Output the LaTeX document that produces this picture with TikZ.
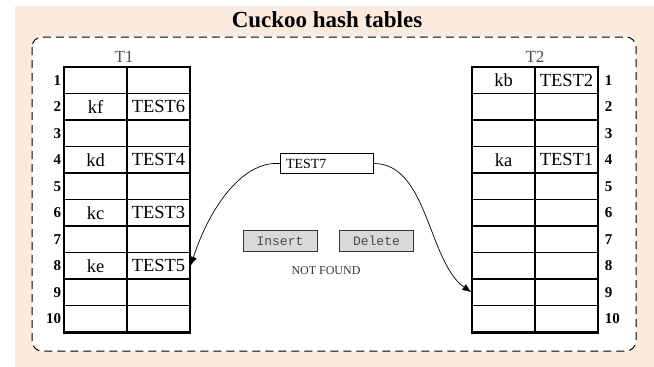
\documentclass[tikz,border=0pt]{standalone}
\usepackage{fontspec}
\setmainfont{Liberation Serif}
\setmonofont{Liberation Mono}
\usetikzlibrary{arrows.meta}
\definecolor{peach}{HTML}{FBEBDE}
\definecolor{btngray}{HTML}{D9D9D9}
\tikzset{
  cell/.style={draw,line width=1.3pt,minimum width=63pt,minimum height=26.5pt,inner sep=0pt,font=\fontsize{18.5}{18.5}\selectfont},
  rownum/.style={inner sep=2pt,font=\bfseries\fontsize{15}{15}\selectfont},
  tname/.style={text=black!70,font=\fontsize{17}{17}\selectfont},
  button/.style={draw=black!80,line width=0.9pt,fill=btngray,minimum width=74pt,minimum height=21pt,inner sep=0pt,font=\ttfamily\fontsize{13}{13}\selectfont,text=black!70},
  hook/.style={-{Latex[length=9pt,width=7pt]},line width=0.7pt},
}
\begin{document}
\begin{tikzpicture}[x=1pt,y=-1pt]
\useasboundingbox (0,0) rectangle (654,367);
\fill[peach] (15,6) rectangle (654,367);
\draw[line width=1pt,fill=white,rounded corners=10pt,dash pattern=on 8pt off 5pt] (32,37) rectangle (636,351);
\node[font=\bfseries\fontsize{23}{23}\selectfont] (title) at (327,20) {Cuckoo hash tables};

% table T1
\foreach \i/\k/\v in {1/{}/{},2/kf/TEST6,3/{}/{},4/kd/TEST4,5/{}/{},6/kc/TEST3,7/{}/{},8/ke/TEST5,9/{}/{},10/{}/{}}{
  \node[cell] (t1k\i) at (95.5,{67+26.5*(\i-0.5)}) {\k};
  \node[cell] (t1v\i) at (158.5,{67+26.5*(\i-0.5)}) {\v};
  \node[rownum,anchor=east] (t1n\i) at (t1k\i.west) {\i};
}
\draw[line width=2.5pt] (t1k10.south west) -- (t1v10.south east);
\node[tname] (t1) at (124,57) {T1};

% table T2
\foreach \i/\k/\v in {1/kb/TEST2,2/{}/{},3/{}/{},4/ka/TEST1,5/{}/{},6/{}/{},7/{}/{},8/{}/{},9/{}/{},10/{}/{}}{
  \node[cell] (t2k\i) at (503.5,{67+26.5*(\i-0.5)}) {\k};
  \node[cell] (t2v\i) at (566.5,{67+26.5*(\i-0.5)}) {\v};
  \node[rownum,anchor=west] (t2n\i) at ([xshift=4pt]t2v\i.east) {\i};
}
\draw[line width=2.5pt] (t2k10.south west) -- (t2v10.south east);
\node[tname] (t2) at (535,57) {T2};

% key being inserted
\node[draw,line width=0.9pt,minimum width=93pt,minimum height=20pt,text width=81pt,align=left,inner xsep=6pt,inner ysep=2pt,font=\fontsize{14}{14}\selectfont] (test7) at (326.5,163.5) {TEST7};
\draw[hook] (test7.west) .. controls (240,161) and (208,212) .. (t1v8.east);
\draw[hook] (test7.east) .. controls (428,163) and (428,262) .. (t2k9.west);

\node[button] (insert) at (280,241) {Insert};
\node[button] (delete) at (376.5,241) {Delete};
\node[text=black!80,font=\fontsize{12}{12}\selectfont] (status) at (326,271) {NOT FOUND};
\end{tikzpicture}
\end{document}
